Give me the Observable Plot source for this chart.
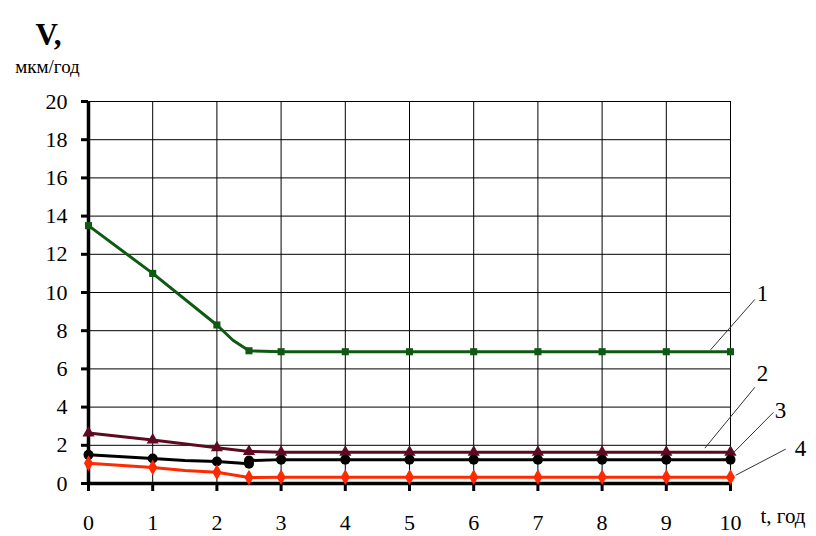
<!DOCTYPE html>
<html>
<head>
<meta charset="utf-8">
<script src="https://cdn.jsdelivr.net/npm/d3@7"></script>
<script src="https://cdn.jsdelivr.net/npm/@observablehq/plot@0.6"></script>
<style>
  html, body { margin: 0; padding: 0; background: #fff; }
</style>
</head>
<body>
<div id="chart"></div>
<script>
// ---- data ----
const markerTimes = [0, 1, 2, 2.5, 3, 4, 5, 6, 7, 8, 9, 10];

const t1 = [0, 1, 2, 2.25, 2.5, 3, 4, 5, 6, 7, 8, 9, 10];
const v1 = [13.5, 11.0, 8.3, 7.5, 6.95, 6.9, 6.9, 6.9, 6.9, 6.9, 6.9, 6.9, 6.9];

const t2 = [0, 1, 2, 2.5, 3, 4, 5, 6, 7, 8, 9, 10];
const v2 = [2.65, 2.28, 1.87, 1.68, 1.63, 1.63, 1.63, 1.63, 1.63, 1.63, 1.63, 1.63];

const t3 = [0, 1, 1.5, 2, 2.5, 2.5, 3, 4, 5, 6, 7, 8, 9, 10];
const v3 = [1.5, 1.31, 1.2, 1.15, 1.03, 1.2, 1.25, 1.25, 1.25, 1.25, 1.25, 1.25, 1.25, 1.25];

const t4 = [0, 1, 1.5, 2, 2.5, 3, 4, 5, 6, 7, 8, 9, 10];
const v4 = [1.06, 0.84, 0.68, 0.59, 0.31, 0.33, 0.33, 0.33, 0.33, 0.33, 0.33, 0.33, 0.33];

const seriesNames = ["1", "2", "3", "4"];
const seriesColors = ["#0e5a12", "#5e0b22", "#000000", "#ff2a00"];
const seriesSymbols = ["square", "triangle", "circle", "diamond"];
const seriesR = [4, 4.5, 5, 4.8];

// leader lines (in chart units): start t, start v, end t, end v, label t, label v
const leaderStartT = [9.69, 9.60, 10.04, 10.08];
const leaderStartV = [7.0, 1.85, 1.59, 0.43];
const leaderEndT = [10.38, 10.38, 10.67, 10.86];
const leaderEndV = [9.64, 5.04, 3.73, 1.80];
const labelT = [10.50, 10.50, 10.78, 11.09];
const labelV = [9.96, 5.77, 3.84, 1.85];

const xTicks = [0, 1, 2, 3, 4, 5, 6, 7, 8, 9, 10];
const yTicks = [0, 2, 4, 6, 8, 10, 12, 14, 16, 18, 20];

const titleText = "V,";
const unitText = "мкм/год";
const xLabelText = "t, год";

// ---- build tables ----
const serif = "Liberation Serif";
const allT = [t1, t2, t3, t4];
const allV = [v1, v2, v3, v4];
const lineData = [];
allT.forEach((ts, i) => ts.forEach((t, j) => lineData.push({s: seriesNames[i], t, v: allV[i][j]})));
const markerSet = new Set(markerTimes);
const dotData = lineData.filter(d => markerSet.has(d.t));
const leaders = seriesNames.map((s, i) => ({
  s, x1: leaderStartT[i], y1: leaderStartV[i], x2: leaderEndT[i], y2: leaderEndV[i], lx: labelT[i], ly: labelV[i]
}));

const colorOf = Object.fromEntries(seriesNames.map((s, i) => [s, seriesColors[i]]));
const symOf = Object.fromEntries(seriesNames.map((s, i) => [s, seriesSymbols[i]]));
const rOf = Object.fromEntries(seriesNames.map((s, i) => [s, seriesR[i]]));

const marks = [
  Plot.gridX(xTicks, {stroke: "#000", strokeOpacity: 1, strokeWidth: 1}),
  Plot.gridY(yTicks, {stroke: "#000", strokeOpacity: 1, strokeWidth: 1}),
  Plot.axisX(xTicks, {tickSize: 8, tickPadding: 23, fontSize: 22, fontFamily: serif, strokeWidth: 3, tickFormat: d => String(d)}),
  Plot.axisY(yTicks, {tickSize: 7, tickPadding: 14, fontSize: 22, fontFamily: serif, strokeWidth: 3, tickFormat: d => String(d)}),
  Plot.ruleX([0], {stroke: "#000", strokeWidth: 3.5}),
  Plot.ruleY([0], {stroke: "#000", strokeWidth: 3.5}),
  Plot.link(leaders, {x1: "x1", y1: "y1", x2: "x2", y2: "y2", stroke: "#333", strokeWidth: 1}),
  Plot.text(leaders, {x: "lx", y: "ly", text: "s", fontSize: 23, fontFamily: serif, fill: "#000"})
];
seriesNames.forEach(s => {
  marks.push(Plot.line(lineData.filter(d => d.s === s), {x: "t", y: "v", stroke: colorOf[s], strokeWidth: 3}));
});
seriesNames.forEach(s => {
  marks.push(Plot.dot(dotData.filter(d => d.s === s), {x: "t", y: "v", symbol: () => symOf[s], r: rOf[s], fill: colorOf[s], stroke: "none"}));
});
marks.push(
  Plot.text([titleText], {frameAnchor: "top-left", dx: -40, dy: -79, text: d => d, fontSize: 31, fontWeight: "bold", fontFamily: serif, textAnchor: "middle"}),
  Plot.text([unitText], {frameAnchor: "top-left", dx: -41, dy: -42, text: d => d, fontSize: 19, fontFamily: serif, textAnchor: "middle"}),
  Plot.text([xLabelText], {frameAnchor: "bottom-right", dx: 30, dy: 39, text: d => d, fontSize: 21, fontFamily: serif, textAnchor: "start"})
);

const chart = Plot.plot({
  width: 816,
  height: 536,
  marginLeft: 88,
  marginRight: 86,
  marginTop: 101,
  marginBottom: 53,
  x: {domain: [0, 10], axis: null},
  y: {domain: [0, 20], axis: null},
  symbol: {type: "identity"},
  clip: false,
  marks
});
// rewrite Plot's embedded stylesheet so its default font is the serif one
chart.querySelectorAll("style").forEach(st => {
  st.textContent = st.textContent.replace(/font-family:[^;]*;/g, "font-family: " + serif + ";");
});
chart.setAttribute("font-family", serif);
chart.querySelectorAll("g, text").forEach(el => el.setAttribute("font-family", serif));
document.getElementById("chart").appendChild(chart);
</script>
</body>
</html>
